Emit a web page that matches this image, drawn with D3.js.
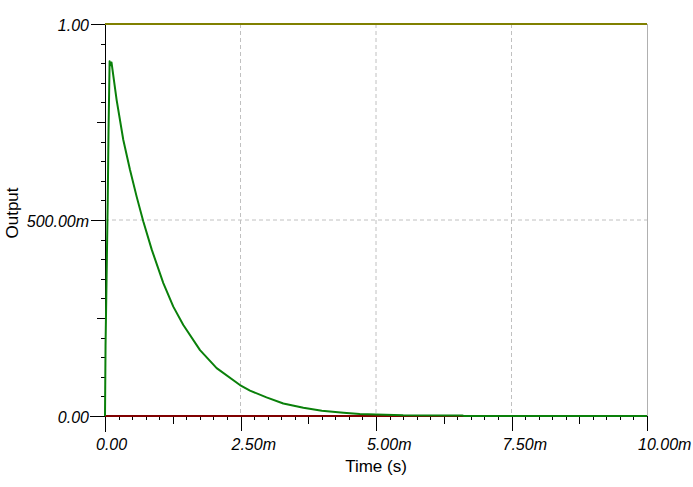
<!DOCTYPE html>
<html><head><meta charset="utf-8">
<script src="https://cdn.jsdelivr.net/npm/d3@7"></script>
<style>body{margin:0;background:#fff}svg{display:block}</style>
</head><body><svg id="c" width="693" height="487"></svg>
<script>
// time in ms, output values
const greenT = [0,0.01,0.03,0.05,0.065,0.085,0.1,0.12,0.215,0.338,0.461,0.585,0.707,0.861,1.076,1.26,1.445,1.753,2.06,2.49,2.675,2.98,3.29,3.66,4.0,4.4,4.7,5.0,5.5,6.6,6.62,10];
const greenV = [0,0.18,0.36,0.545,0.725,0.905,0.895,0.902,0.806,0.704,0.628,0.559,0.496,0.425,0.339,0.279,0.232,0.168,0.122,0.079,0.0646,0.0476,0.032,0.021,0.0135,0.0085,0.005,0.004,0.002,0.001,0,0];
const oliveT = [0,10], oliveV = [1,1];
const redT = [0,10], redV = [0,0];
const xTicks = [0,2.5,5,7.5,10];
const xTickLabels = ["0.00","2.50m","5.00m","7.50m","10.00m"];
const yTicks = [0,0.5,1];
const yTickLabels = ["0.00","500.00m","1.00"];

const svg = d3.select("#c");
const L=105,R=647,T=24,B=416;
const x = d3.scaleLinear().domain([0,10]).range([L,R]);
const y = d3.scaleLinear().domain([0,1]).range([B,T]);

// grid
const g = svg.append("g");
xTicks.slice(1,4).forEach(t=>g.append("line").attr("x1",x(t)).attr("x2",x(t)).attr("y1",T).attr("y2",B)
  .attr("stroke","#c0c0c0").attr("stroke-dasharray","4,3"));
g.append("line").attr("x1",L).attr("x2",R).attr("y1",y(0.5)).attr("y2",y(0.5)).attr("stroke","#c0c0c0").attr("stroke-dasharray","4,3");
g.append("line").attr("x1",R+0.5).attr("x2",R+0.5).attr("y1",T).attr("y2",B).attr("stroke","#b0b0b0");
g.append("line").attr("x1",L).attr("x2",R).attr("y1",T+0.5).attr("y2",T+0.5).attr("stroke","#b0b0b0");

// axes
const ax = svg.append("g").attr("stroke","#000").attr("stroke-width",1);
ax.append("line").attr("x1",L+0.5).attr("x2",L+0.5).attr("y1",T).attr("y2",B+16);
ax.append("line").attr("x1",L-15).attr("x2",R).attr("y1",B+0.5).attr("y2",B+0.5);
d3.range(0,41).forEach(i=>{
  const t=i*0.25; const xx=Math.round(x(t))+0.5;
  const len = (i%10===0)?15:(i%5===0?8:4);
  ax.append("line").attr("x1",xx).attr("x2",xx).attr("y1",B).attr("y2",B+len);
});
d3.range(0,21).forEach(i=>{
  const v=i*0.05; const yy=Math.round(y(v))+0.5;
  const len = (i%10===0)?14:(i%5===0?8:4);
  ax.append("line").attr("x1",L-len).attr("x2",L).attr("y1",yy).attr("y2",yy);
});
const fnt = "'Liberation Sans', Arial, sans-serif";
svg.append("g").selectAll("text").data(xTicks).join("text")
  .attr("x",d=>x(d)-9).attr("y",B+34).text((d,i)=>xTickLabels[i])
  .attr("font-family",fnt).attr("font-style","italic").attr("font-size",16).attr("fill","#000");
svg.append("g").selectAll("text").data(yTicks).join("text")
  .attr("x",89).attr("y",d=>y(d)+6.5).attr("text-anchor","end").text((d,i)=>yTickLabels[i])
  .attr("font-family",fnt).attr("font-style","italic").attr("font-size",16).attr("fill","#000");
svg.append("text").attr("x",(L+R)/2).attr("y",472).attr("text-anchor","middle").text("Time (s)")
  .attr("font-family",fnt).attr("font-size",17).attr("fill","#000");
svg.append("text").attr("transform","translate(18,213) rotate(-90)").attr("text-anchor","middle").text("Output")
  .attr("font-family",fnt).attr("font-size",17).attr("fill","#000");

// series
const line = d3.line().x(d=>x(d[0])).y(d=>y(d[1]));
function draw(ts,vs,col){
  svg.append("path").datum(ts.map((t,i)=>[t,vs[i]])).attr("d",line)
    .attr("fill","none").attr("stroke",col).attr("stroke-width",2).attr("stroke-linejoin","round");
}
draw(redT,redV,"#800000");
draw(oliveT,oliveV,"#808000");
draw(greenT,greenV,"#0a800a");
</script></body></html>
